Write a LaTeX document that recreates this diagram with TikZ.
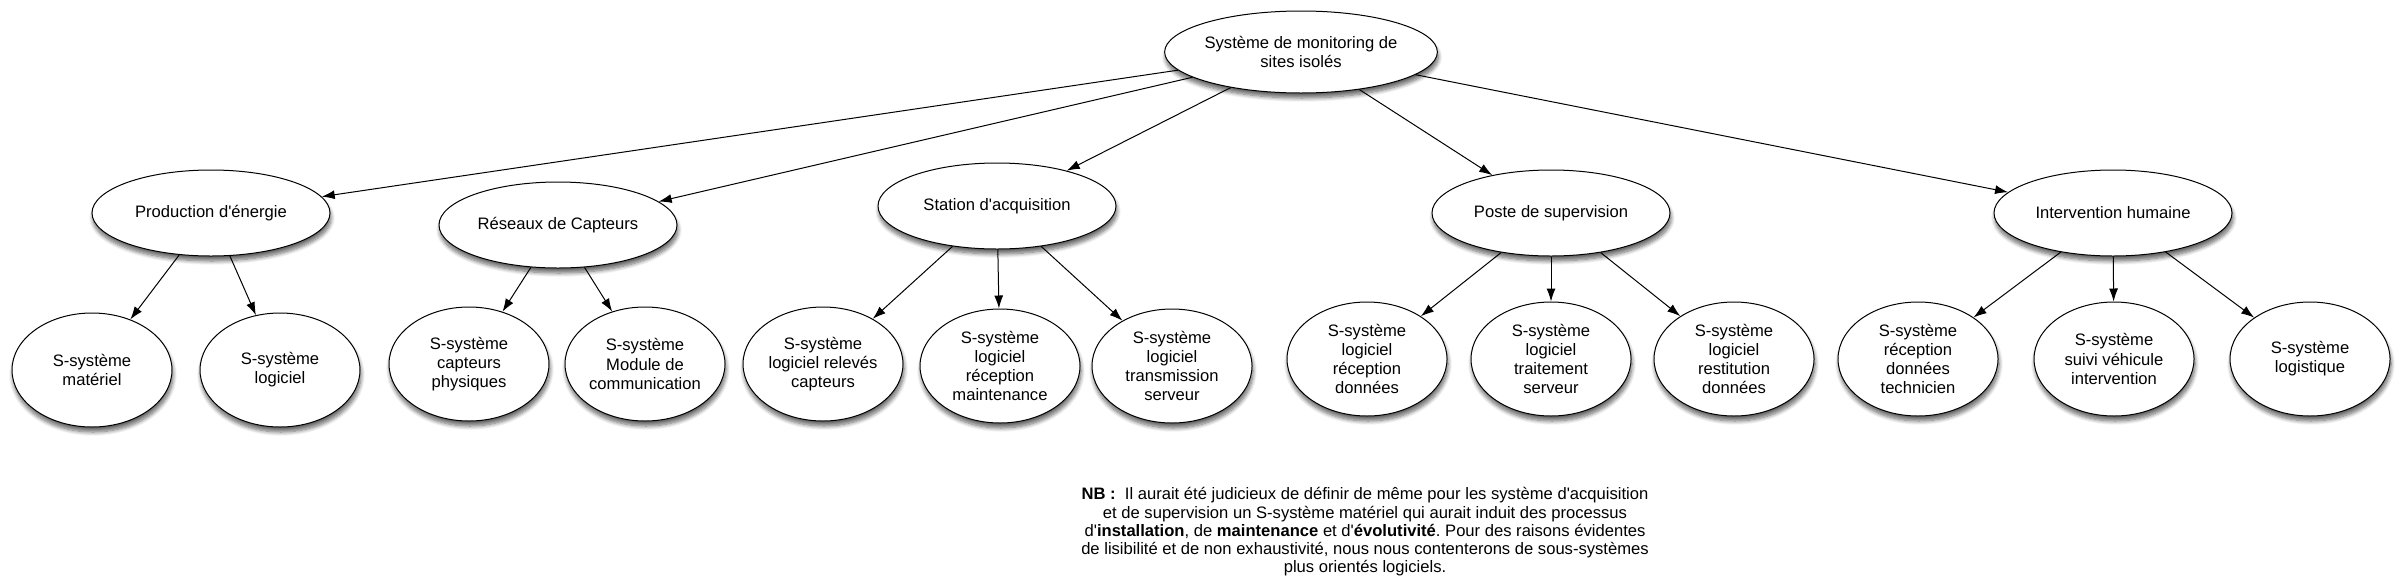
\documentclass[tikz,border=0pt]{standalone}
\usepackage{fontspec}
\newfontfamily\nf{Liberation Sans}
\usetikzlibrary{shapes.geometric,arrows.meta,shadows.blur}
\begin{document}
\frenchspacing
\begin{tikzpicture}[x=1pt,y=-1pt,
  base/.style={ellipse, draw, line width=1pt, fill=white, inner sep=0pt, align=center,
    font=\nf\fontsize{16.6}{19.2}\selectfont,
    blur shadow={shadow xshift=1pt, shadow yshift=-5pt, shadow blur radius=4pt, shadow blur steps=8, shadow opacity=60}},
  rootn/.style={base, minimum width=270pt, minimum height=82pt},
  mid/.style={base, minimum width=238pt, minimum height=86pt},
  leaf/.style={base, minimum width=160pt, minimum height=114pt},
  arr/.style={-{Latex[length=13pt,width=9pt]}, line width=1pt},
  note/.style={align=center, inner sep=0pt, font=\nf\fontsize{16.6}{18.3}\selectfont}]
\useasboundingbox (0,0) rectangle (2405,584);
\node[rootn] (root) at (1301,52) {Système de monitoring de\\sites isolés};
\node[mid] (prod) at (211,213) {Production d'énergie};
\node[mid] (res) at (558,225) {Réseaux de Capteurs};
\node[mid] (sta) at (997,206) {Station d'acquisition};
\node[mid] (pos) at (1551,213) {Poste de supervision};
\node[mid] (int) at (2113,213) {Intervention humaine};
\node[leaf] (mat) at (92,370) {S-système\\matériel};
\node[leaf] (log) at (280,370) {S-système\\logiciel};
\node[leaf] (cap) at (469,364) {S-système\\capteurs\\physiques};
\node[leaf] (mod) at (645,364) {S-système\\Module de\\communication};
\node[leaf] (rel) at (823,364) {S-système\\logiciel relevés\\capteurs};
\node[leaf] (mai) at (1000,366) {S-système\\logiciel\\réception\\maintenance};
\node[leaf] (tra) at (1172,366) {S-système\\logiciel\\transmission\\serveur};
\node[leaf] (rec) at (1367,359) {S-système\\logiciel\\réception\\données};
\node[leaf] (trt) at (1551,359) {S-système\\logiciel\\traitement\\serveur};
\node[leaf] (rst) at (1734,359) {S-système\\logiciel\\restitution\\données};
\node[leaf] (tec) at (1918,359) {S-système\\réception\\données\\technicien};
\node[leaf] (sui) at (2114,359) {S-système\\suivi véhicule\\intervention};
\node[leaf] (lgs) at (2310,359) {S-système\\logistique};
\foreach \a/\b in {root/prod,root/res,root/sta,root/pos,root/int,
  prod/mat,prod/log,res/cap,res/mod,sta/rel,sta/mai,sta/tra,
  pos/rec,pos/trt,pos/rst,int/tec,int/sui,int/lgs}
  \draw[arr] (\a) -- (\b);
\node[note] (nb) at (1365,532) {\textbf{NB :}\ \ Il aurait été judicieux de définir de même pour les système d'acquisition\\
et de supervision un S-système matériel qui aurait induit des processus\\
d'\textbf{installation}, de \textbf{maintenance} et d'\textbf{évolutivité}. Pour des raisons évidentes\\
de lisibilité et de non exhaustivité, nous nous contenterons de sous-systèmes\\
plus orientés logiciels.};
\end{tikzpicture}
\end{document}
